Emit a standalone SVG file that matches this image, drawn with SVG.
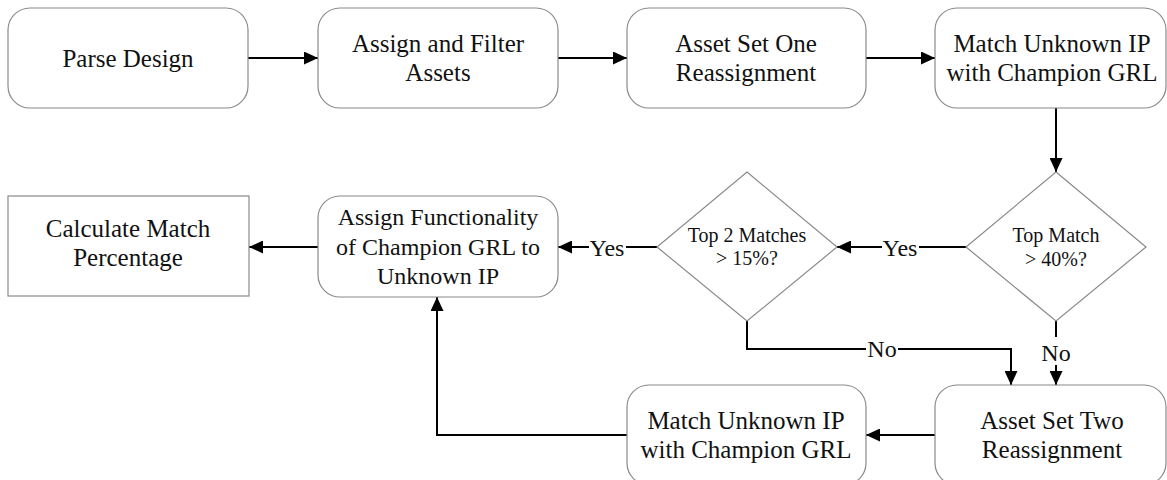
<svg xmlns="http://www.w3.org/2000/svg" width="1167" height="480" viewBox="0 0 1167 480">
<style>
.box{fill:#fff;stroke:#8a8a8a;stroke-width:1.2}
.t{font-family:"Liberation Serif",Tinos,"Times New Roman","Noto Serif","DejaVu Serif",serif;font-size:25px;fill:#111;text-anchor:middle}
.tm{font-size:24px}
.ts{font-size:20px}
.c{fill:none;stroke:#000;stroke-width:2}
.lb{fill:#fff}
</style>
<defs>
<marker id="ah" markerUnits="userSpaceOnUse" markerWidth="15" markerHeight="13" refX="14" refY="6.5" orient="auto">
<path d="M0,0 L14,6.5 L0,13 z" fill="#000"/>
</marker>
</defs>
<g id="connectors">
<line class="c" x1="248" y1="58" x2="318" y2="58" marker-end="url(#ah)"/>
<line class="c" x1="558" y1="58" x2="627" y2="58" marker-end="url(#ah)"/>
<line class="c" x1="866" y1="58" x2="935" y2="58" marker-end="url(#ah)"/>
<line class="c" x1="1056" y1="108" x2="1056" y2="172" marker-end="url(#ah)"/>
<line class="c" x1="966" y1="247" x2="837" y2="247" marker-end="url(#ah)"/>
<line class="c" x1="657" y1="247" x2="558" y2="247" marker-end="url(#ah)"/>
<line class="c" x1="318" y1="247" x2="249" y2="247" marker-end="url(#ah)"/>
<polyline class="c" points="747,321 747,349 1011,349 1011,385" marker-end="url(#ah)"/>
<line class="c" x1="1056" y1="321" x2="1056" y2="385" marker-end="url(#ah)"/>
<line class="c" x1="935" y1="435" x2="866" y2="435" marker-end="url(#ah)"/>
<polyline class="c" points="627,435 437,435 437,297" marker-end="url(#ah)"/>
<rect class="lb" x="882" y="235" width="37" height="26"/>
<text class="t tm" x="900" y="256">Yes</text>
<rect class="lb" x="589" y="235" width="37" height="26"/>
<text class="t tm" x="607" y="256">Yes</text>
<rect class="lb" x="866" y="337" width="32" height="24"/>
<text class="t tm" x="882" y="357">No</text>
<rect class="lb" x="1041" y="337" width="30" height="28"/>
<text class="t tm" x="1056" y="361">No</text>
</g>
<g id="parse-design">
<rect class="box" x="8" y="8" width="240" height="100" rx="22"/>
<text class="t" x="128" y="67">Parse Design</text>
</g>
<g id="assign-filter">
<rect class="box" x="318" y="8" width="240" height="100" rx="22"/>
<text class="t" x="438" y="52">Assign and Filter</text>
<text class="t" x="438" y="81">Assets</text>
</g>
<g id="asset-set-one">
<rect class="box" x="627" y="8" width="239" height="100" rx="22"/>
<text class="t" x="746" y="52">Asset Set One</text>
<text class="t" x="746" y="81">Reassignment</text>
</g>
<g id="match-unknown-1">
<rect class="box" x="935" y="8" width="231" height="100" rx="22"/>
<text class="t" x="1052" y="52">Match Unknown IP</text>
<text class="t" x="1052" y="81">with Champion GRL</text>
</g>
<g id="top-match">
<polygon class="box" points="1056,172 1146,247 1056,321 966,247"/>
<text class="t ts" x="1056" y="242">Top Match</text>
<text class="t ts" x="1056" y="266">&gt; 40%?</text>
</g>
<g id="top-2-matches">
<polygon class="box" points="747,172 837,247 747,321 657,247"/>
<text class="t ts" x="747" y="242">Top 2 Matches</text>
<text class="t ts" x="747" y="265">&gt; 15%?</text>
</g>
<g id="assign-functionality">
<rect class="box" x="318" y="196" width="240" height="101" rx="22"/>
<text class="t" x="438" y="225" style="font-size:24px">Assign Functionality</text>
<text class="t" x="438" y="255" style="font-size:24px">of Champion GRL to</text>
<text class="t" x="438" y="284" style="font-size:24px">Unknown IP</text>
</g>
<g id="calculate-match">
<rect class="box" x="8" y="196" width="241" height="100"/>
<text class="t" x="128" y="237">Calculate Match</text>
<text class="t" x="128" y="266">Percentage</text>
</g>
<g id="asset-set-two">
<rect class="box" x="935" y="385" width="231" height="100" rx="22"/>
<text class="t" x="1052" y="429">Asset Set Two</text>
<text class="t" x="1052" y="458">Reassignment</text>
</g>
<g id="match-unknown-2">
<rect class="box" x="627" y="385" width="239" height="100" rx="22"/>
<text class="t" x="746" y="429">Match Unknown IP</text>
<text class="t" x="746" y="458">with Champion GRL</text>
</g>
</svg>
